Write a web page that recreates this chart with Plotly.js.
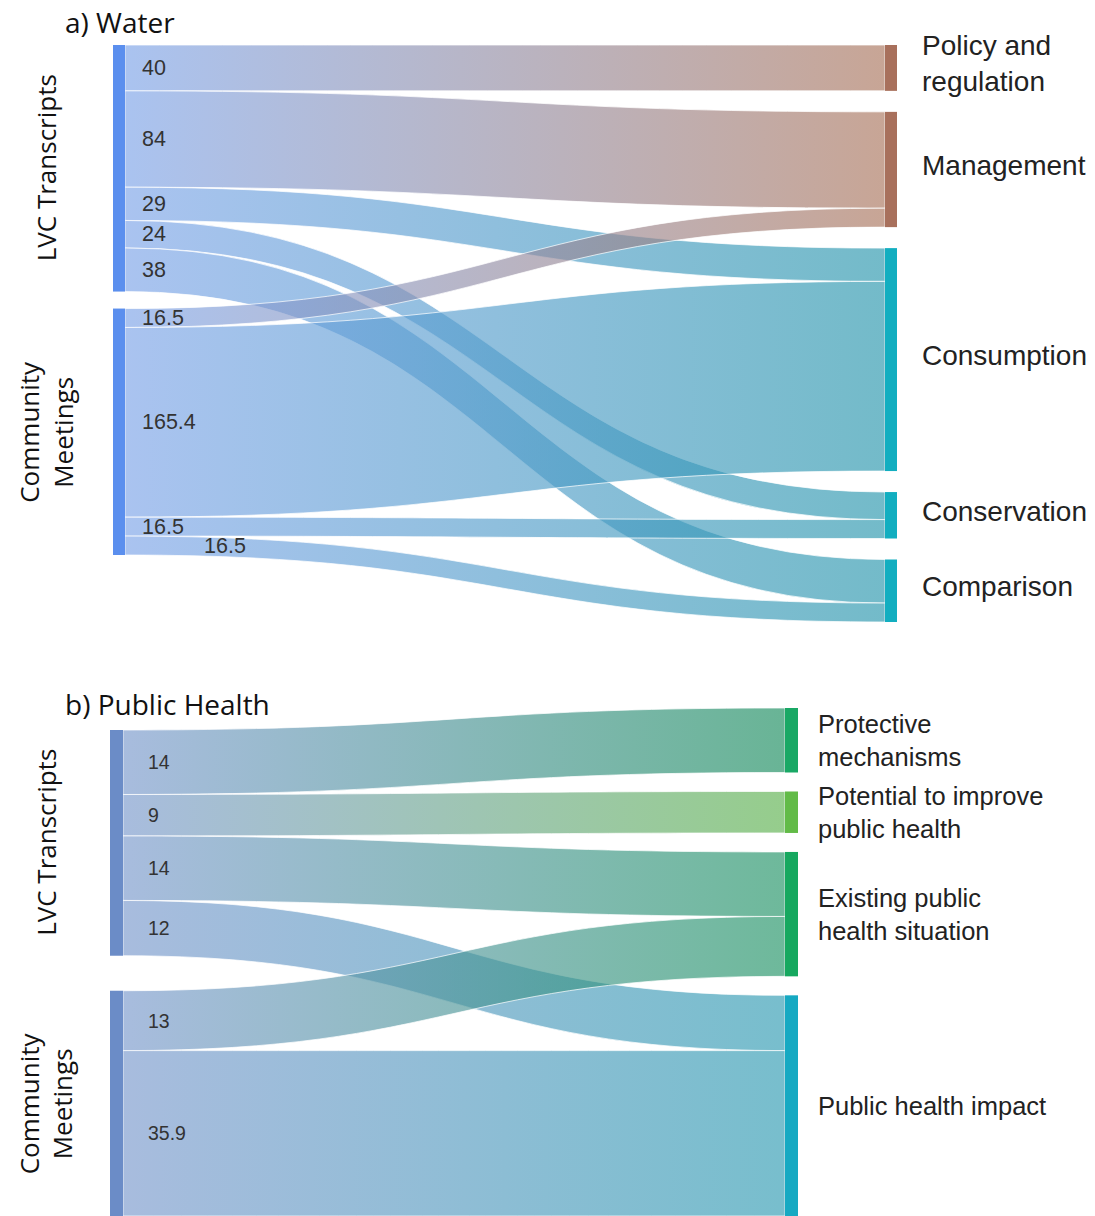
<!DOCTYPE html>
<html><head><meta charset="utf-8">
<script src="https://cdn.plot.ly/plotly-3.0.1.min.js"></script>
<style>html,body{margin:0;padding:0;background:#fff;} #chart{width:1095px;height:1216px;}</style>
</head><body><div id="chart"></div>
<svg id="gradDefs" width="0" height="0" style="position:absolute;left:0;top:0"><defs></defs></svg>
<script>
// ---------- a) Water ----------
const waterNodes = ["LVC Transcripts", "Community<br>Meetings", "Policy and<br>regulation", "Management", "Consumption", "Conservation", "Comparison"];
const waterSources = [0, 0, 0, 0, 0, 1, 1, 1, 1];
const waterTargets = [2, 3, 4, 5, 6, 3, 4, 5, 6];
const waterValues = [40, 84, 29, 24, 38, 16.5, 165.4, 16.5, 16.5];
const waterValueLabels = ["40", "84", "29", "24", "38", "16.5", "165.4", "16.5", "16.5"];

// ---------- b) Public Health ----------
const healthNodes = ["LVC Transcripts", "Community<br>Meetings", "Protective<br>mechanisms", "Potential to improve<br>public health", "Existing public<br>health situation", "Public health impact"];
const healthSources = [0, 0, 0, 0, 1, 1];
const healthTargets = [2, 3, 4, 5, 4, 5];
const healthValues = [14, 9, 14, 12, 13, 35.9];
const healthValueLabels = ["14", "9", "14", "12", "13", "35.9"];

const panelTitles = ["a) Water", "b) Public Health"];

// ---------- styles ----------
const W = 1095, H = 1216;
const waterDomain = {x: [113 / W, 897 / W], y: [1 - 622 / H, 1 - 45 / H]};
const healthDomain = {x: [110 / W, 798 / W], y: [0, 1 - 708 / H]};
const waterNodeColors = ['#5b8fee', '#5b8fee', '#a8705c', '#a8705c', '#12aec0', '#12aec0', '#12aec0'];
const healthNodeColors = ['#6b8cc7', '#6b8cc7', '#19a865', '#62bb47', '#16a85f', '#16a9c2'];
const waterGradStart = 'rgb(124,163,232)';
const waterGradEnds = [null, null, 'rgb(170,117,93)', 'rgb(170,117,93)', 'rgb(40,150,172)', 'rgb(40,150,172)', 'rgb(40,150,172)'];
const healthGradStart = 'rgb(121,152,204)';
const healthGradEnds = [null, null, 'rgb(24,140,93)', 'rgb(93,178,78)', 'rgb(32,147,101)', 'rgb(47,155,178)'];
const LINK_ALPHA = 0.65;
// node placement style: padding between target nodes, left column top offset and gap
const waterPlace = {pad: 21, thick: 12, leftTop: 0, leftGap: 17};
const healthPlace = {pad: 19, thick: 13, leftTop: 22, leftGap: 35};

function solid(rgb, a) { return rgb.replace('rgb(', 'rgba(').replace(')', ',' + a + ')'); }

// derive normalized node centres from the values (stacked columns, data order kept)
function placeNodes(n, src, tgt, val, domain, pl) {
  const inS = new Array(n).fill(0), outS = new Array(n).fill(0);
  src.forEach((s, i) => { outS[s] += val[i]; inS[tgt[i]] += val[i]; });
  const nv = inS.map((v, i) => Math.max(v, outS[i]));
  const isLeft = inS.map(v => v === 0);
  const wpx = (domain.x[1] - domain.x[0]) * W, hpx = (domain.y[1] - domain.y[0]) * H;
  const cols = [[], []];
  for (let i = 0; i < n; i++) cols[isLeft[i] ? 0 : 1].push(i);
  const k = Math.min(...cols.map(c => (hpx - (c.length - 1) * pl.pad) / c.reduce((a, i) => a + nv[i], 0)));
  const xs = new Array(n), ys = new Array(n);
  let y = pl.leftTop;
  cols[0].forEach(i => { ys[i] = (y + nv[i] * k / 2) / hpx; xs[i] = (pl.thick / 2) / wpx; y += nv[i] * k + pl.leftGap; });
  y = 0;
  cols[1].forEach(i => { ys[i] = (y + nv[i] * k / 2) / hpx; xs[i] = 1 - (pl.thick / 2) / wpx; y += nv[i] * k + pl.pad; });
  return {x: xs, y: ys};
}

const wPos = placeNodes(waterNodes.length, waterSources, waterTargets, waterValues, waterDomain, waterPlace);
const hPos = placeNodes(healthNodes.length, healthSources, healthTargets, healthValues, healthDomain, healthPlace);

const traces = [
  {
    type: 'sankey', domain: waterDomain, arrangement: 'fixed', hoverinfo: 'none',
    textfont: {color: 'rgba(0,0,0,0)', size: 1},
    node: {label: waterNodes, color: waterNodeColors, pad: waterPlace.pad, thickness: waterPlace.thick, line: {width: 0},
      x: wPos.x, y: wPos.y},
    link: {source: waterSources, target: waterTargets, value: waterValues,
      color: waterTargets.map(t => solid(waterGradEnds[t], LINK_ALPHA)),
      line: {color: 'rgba(255,255,255,0.9)', width: 0.8}}
  },
  {
    type: 'sankey', domain: healthDomain, arrangement: 'fixed', hoverinfo: 'none',
    textfont: {color: 'rgba(0,0,0,0)', size: 1},
    node: {label: healthNodes, color: healthNodeColors, pad: healthPlace.pad, thickness: healthPlace.thick, line: {width: 0},
      x: hPos.x, y: hPos.y},
    link: {source: healthSources, target: healthTargets, value: healthValues,
      color: healthTargets.map(t => solid(healthGradEnds[t], LINK_ALPHA)),
      line: {color: 'rgba(255,255,255,0.9)', width: 0.8}}
  }
];

const cfg = [
  {start: waterGradStart, ends: waterGradEnds, vals: waterValueLabels, names: waterNodes, domain: waterDomain,
   valFont: 21.5, valDx: 15, labFont: 28, labDx: 23, labDy: -4},
  {start: healthGradStart, ends: healthGradEnds, vals: healthValueLabels, names: healthNodes, domain: healthDomain,
   valFont: 19.5, valDx: 23, labFont: 25.5, labDx: 18, labDy: 0}
];

const titleAnns = [
  {text: panelTitles[0], x: 63 / W, y: 1 - 22 / H},
  {text: panelTitles[1], x: 63 / W, y: 1 - 704 / H}
].map(a => Object.assign(a, {xref: 'paper', yref: 'paper', xanchor: 'left', yanchor: 'middle', showarrow: false,
  font: {family: 'Open Sans, Noto Sans, sans-serif', size: 28, color: '#111'}}));

const layout = {
  width: W, height: H, margin: {l: 0, r: 0, t: 0, b: 0},
  paper_bgcolor: '#fff', font: {family: 'Liberation Sans, Arial, sans-serif'},
  annotations: titleAnns
};

function getLinks() {
  const out = [];
  document.querySelectorAll('#chart path.sankey-link').forEach(p => {
    const d = p.__data__;
    if (d && d.link) {
      let ti = d.link.curveNumber;
      if (ti == null && d.trace) ti = d.trace.index;
      if (ti == null && d.parent && d.parent.trace) ti = d.parent.trace.index;
      out.push({el: p, d: d, ti: ti || 0});
    }
  });
  return out;
}

function buildAnnotations() {
  const ann = titleAnns.slice();
  const links = getLinks();
  [0, 1].forEach(ti => {
    const c = cfg[ti];
    const L = links.filter(o => o.ti === ti);
    if (!L.length) return;
    const par = L[0].d.parent || {};
    const tx = (par.translateX != null) ? par.translateX : c.domain.x[0] * W;
    const ty = (par.translateY != null) ? par.translateY : (1 - c.domain.y[1]) * H;
    const nodes = new Map();
    L.forEach(o => {
      nodes.set(o.d.link.source.pointNumber, o.d.link.source);
      nodes.set(o.d.link.target.pointNumber, o.d.link.target);
    });
    const ls = L.map(o => o.d.link).sort((a, b) => (a.source.pointNumber - b.source.pointNumber) || (a.y0 - b.y0));
    let prev = null;
    ls.forEach(l => {
      let x = tx + l.source.x1 + c.valDx;
      const y = ty + l.y0;
      let shifted = false;
      if (prev && prev.src === l.source.pointNumber && Math.abs(y - prev.y) < 22 && !prev.shifted) { x += 62; shifted = true; }
      prev = {src: l.source.pointNumber, y: y, shifted: shifted};
      ann.push({text: c.vals[l.pointNumber], x: x / W, y: 1 - y / H, xref: 'paper', yref: 'paper',
        xanchor: 'left', yanchor: 'middle', showarrow: false,
        font: {family: 'Liberation Sans, Arial, sans-serif', size: c.valFont, color: '#333'}});
    });
    nodes.forEach((n, pn) => {
      const cy = ty + (n.y0 + n.y1) / 2;
      if (n.targetLinks && n.targetLinks.length) {
        ann.push({text: c.names[pn], x: (tx + n.x1 + c.labDx) / W, y: 1 - (cy + c.labDy) / H,
          xref: 'paper', yref: 'paper', xanchor: 'left', yanchor: 'middle', align: 'left', showarrow: false,
          font: {family: 'Liberation Sans, Arial, sans-serif', size: c.labFont, color: '#222'}});
      } else {
        ann.push({text: c.names[pn], x: 46 / W, y: 1 - cy / H, textangle: -90,
          xref: 'paper', yref: 'paper', xanchor: 'center', yanchor: 'middle', align: 'center', showarrow: false,
          font: {family: 'Open Sans, Noto Sans, sans-serif', size: 26, color: '#111'}});
      }
    });
  });
  return ann;
}

function applyGradients() {
  const defs = document.querySelector('#gradDefs defs');
  const NS = 'http://www.w3.org/2000/svg';
  getLinks().forEach(o => {
    const c = cfg[o.ti];
    const l = o.d.link;
    const id = 'lg_' + o.ti + '_' + l.pointNumber;
    if (!document.getElementById(id)) {
      const g = document.createElementNS(NS, 'linearGradient');
      g.setAttribute('id', id);
      g.setAttribute('x1', '0'); g.setAttribute('x2', '1'); g.setAttribute('y1', '0'); g.setAttribute('y2', '0');
      [[0, c.start], [1, c.ends[l.target.pointNumber]]].forEach(s => {
        const st = document.createElementNS(NS, 'stop');
        st.setAttribute('offset', s[0]);
        st.setAttribute('stop-color', s[1]);
        g.appendChild(st);
      });
      defs.appendChild(g);
    }
    o.el.style.fill = 'url(#' + id + ')';
    o.el.style.fillOpacity = LINK_ALPHA;
  });
}

const gd = document.getElementById('chart');
Plotly.newPlot(gd, traces, layout, {displayModeBar: false, staticPlot: true}).then(() => {
  const ann = buildAnnotations();
  return Plotly.relayout(gd, {annotations: ann});
}).then(() => {
  applyGradients();
  setTimeout(applyGradients, 700);
  setTimeout(applyGradients, 1500);
});
</script>
</body></html>
